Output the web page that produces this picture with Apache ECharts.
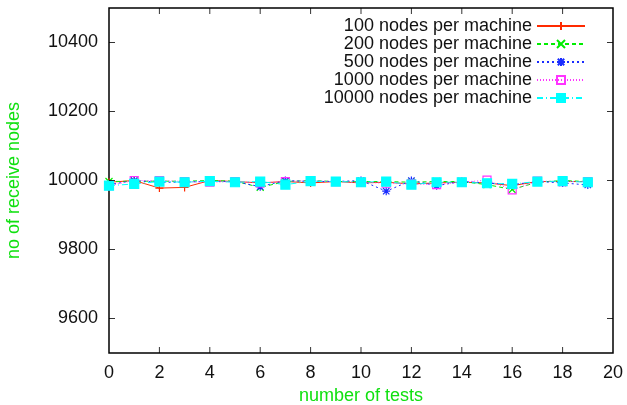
<!DOCTYPE html>
<html>
<head>
<meta charset="utf-8">
<script src="https://cdn.jsdelivr.net/npm/echarts@6/dist/echarts.min.js"></script>
<style>
  html, body { margin: 0; padding: 0; background: #fff; }
  #chart { width: 627px; height: 405px; }
</style>
</head>
<body>
<div id="chart"></div>
<script>
// test index 0..19
const tests = [0, 1, 2, 3, 4, 5, 6, 7, 8, 9, 10, 11, 12, 13, 14, 15, 16, 17, 18, 19]

const nodes100 = [9995, 10000, 9978, 9980, 10000, 9997, 9993, 9997, 9993, 9997, 9993, 9995, 9990, 9993, 9995, 9993, 9985, 9997, 9997, 9997]
const nodes200 = [9997, 9998, 9998, 9998, 10000, 9998, 9980, 9997, 10000, 9997, 9997, 9997, 9995, 9997, 9997, 9988, 9974, 9995, 10000, 9997]
const nodes500 = [9988, 10000, 9995, 9995, 9998, 9997, 9982, 10000, 9997, 9997, 10000, 9969, 10000, 9985, 9997, 9993, 9988, 9997, 9993, 9987]
const nodes1000 = [9985, 10000, 10000, 9997, 9995, 9997, 9993, 9997, 10000, 9997, 9995, 9992, 9990, 9988, 9995, 10001, 9973, 9998, 9997, 9997]
const nodes10000 = [9985, 9990, 9997, 9995, 9998, 9995, 9997, 9988, 9998, 9997, 9995, 9997, 9988, 9995, 9995, 9992, 9990, 9997, 9998, 9995]

const xTicks = [2, 4, 6, 8, 10, 12, 14, 16, 18]
const yTicks = [9600, 9800, 10000, 10200, 10400]
const xMin = 0
const xMax = 20
const yMin = 9500
const yMax = 10500

const names = [
  '100 nodes per machine',
  '200 nodes per machine',
  '500 nodes per machine',
  '1000 nodes per machine',
  '10000 nodes per machine'
]

const green = '#10e010'
const font = 'Liberation Sans, Arial, Helvetica, sans-serif'
const tickLen = 6

function mkSeries(name, data, color, dash, symbol, size, filled) {
  return {
    name: name,
    type: 'line',
    data: data.map((v, i) => [tests[i], v]),
    symbol: symbol,
    symbolSize: size,
    showSymbol: true,
    lineStyle: { color: color, width: 1, type: dash },
    itemStyle: {
      color: filled ? color : 'rgba(0,0,0,0)',
      borderColor: color,
      borderWidth: 1.2
    },
    emphasis: { disabled: true }
  }
}

// gnuplot style inward ticks, drawn as thin marks placed on the frame through the axes
function tickMarks(data, size, offset) {
  return {
    type: 'scatter',
    data: data,
    symbol: 'rect',
    symbolSize: size,
    symbolOffset: offset,
    itemStyle: { color: '#000', borderWidth: 0 },
    clip: false,
    silent: true,
    z: 5
  }
}

const chart = echarts.init(document.getElementById('chart'))
chart.setOption({
  backgroundColor: '#fff',
  animation: false,
  textStyle: { fontFamily: font },
  grid: {
    left: 109, right: 14, top: 8, bottom: 52,
    outerBoundsMode: 'none',
    show: true,
    borderColor: '#000',
    borderWidth: 1.5
  },
  legend: {
    data: names,
    orient: 'vertical',
    right: 36,
    top: 12,
    align: 'right',
    itemWidth: 48,
    itemHeight: 10,
    itemGap: 0,
    textStyle: { fontSize: 18, color: '#111', lineHeight: 18, fontFamily: font }
  },
  xAxis: {
    type: 'value',
    min: xMin,
    max: xMax,
    interval: 2,
    name: 'number of tests',
    nameLocation: 'middle',
    nameGap: 34,
    nameTextStyle: { color: green, fontSize: 18, fontFamily: font },
    axisLine: { show: false },
    axisTick: { show: false },
    axisLabel: { color: '#111', fontSize: 18, margin: 11 },
    splitLine: { show: false }
  },
  yAxis: {
    type: 'value',
    min: yMin,
    max: yMax,
    name: 'no of receive nodes',
    nameLocation: 'middle',
    nameGap: 86,
    nameTextStyle: { color: green, fontSize: 18, fontFamily: font },
    axisLine: { show: false },
    axisTick: { show: false },
    axisLabel: { color: '#111', fontSize: 18, margin: 11, customValues: yTicks, formatter: v => String(v) },
    splitLine: { show: false }
  },
  series: [
    tickMarks(xTicks.map(v => [v, yMin]), [1, tickLen], [0, -tickLen / 2]),
    tickMarks(xTicks.map(v => [v, yMax]), [1, tickLen], [0, tickLen / 2]),
    tickMarks(yTicks.map(v => [xMin, v]), [tickLen, 1], [tickLen / 2, 0]),
    tickMarks(yTicks.map(v => [xMax, v]), [tickLen, 1], [-tickLen / 2, 0]),
    mkSeries(names[0], nodes100, '#ff2a00', 'solid', 'path://M5,0L5,10M0,5L10,5', 8, false),
    mkSeries(names[1], nodes200, '#00ee00', [4, 3], 'path://M0,0L10,10M10,0L0,10', 7, false),
    mkSeries(names[2], nodes500, '#1a2cff', [2, 3], 'path://M5,0L5,10M0,5L10,5M1,1L9,9M9,1L1,9', 8, false),
    mkSeries(names[3], nodes1000, '#ff33ff', [1, 2], 'rect', 8, false),
    mkSeries(names[4], nodes10000, '#00ffff', [6, 3, 1, 3], 'rect', 9, true)
  ]
})
</script>
</body>
</html>
